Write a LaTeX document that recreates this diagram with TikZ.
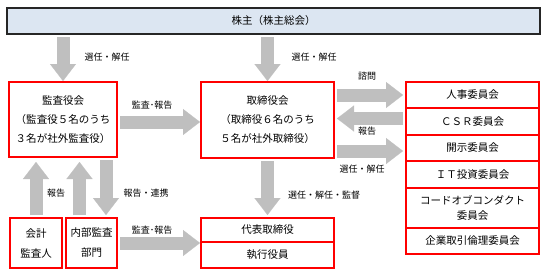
\documentclass[tikz,border=0pt]{standalone}
\usepackage{fontspec}
\setmainfont{Noto Sans CJK JP}
\usetikzlibrary{arrows.meta,positioning}

\definecolor{headfill}{HTML}{DCE6F2}
\definecolor{headline}{HTML}{262626}
\definecolor{arrowgray}{HTML}{BFBFBF}

\tikzset{
	headbox/.style={draw=headline, fill=headfill, line width=1.5pt, inner sep=0pt, outer sep=0pt,
		font=\fontsize{10.5}{13}\selectfont},
	redbox/.style={draw=red, line width=1.2pt, inner sep=0pt, outer sep=0pt, align=center,
		font=\fontsize{10.5}{19}\selectfont},
	combox/.style={redbox, minimum width=133pt, font=\fontsize{10.5}{15}\selectfont},
	fatarrow/.style={draw=arrowgray, line width=13pt,
		-{Triangle[width=26pt,length=17pt,line width=0.1pt]}},
	lbl/.style={font=\fontsize{9}{11}\selectfont, inner sep=0pt}
}

\begin{document}
\begin{tikzpicture}[x=1pt,y=-1pt]
	\useasboundingbox (0,0) rectangle (548,276);

	%% Shareholders on top
	\node[headbox, minimum width=533pt, minimum height=26pt] (share) at (273.5,21) {株主（株主総会）};

	%% Audit side (left)
	\node[redbox, minimum width=108pt, minimum height=75pt] (kansa) at (63,119.5)
		{監査役会\\（監査役５名のうち\\３名が社外監査役）};
	\node[redbox, minimum width=52pt, minimum height=50pt, font=\fontsize{10.5}{20}\selectfont]
		(kaikei) at (36,243) {会計\\監査人};
	\node[redbox, minimum width=51pt, minimum height=50pt, font=\fontsize{10.5}{20}\selectfont]
		(naibu) at (91.5,243) {内部監査\\部門};

	%% Board and executives (middle)
	\node[redbox, minimum width=133pt, minimum height=76pt] (tori) at (267.5,120)
		{取締役会\\（取締役６名のうち\\５名が社外取締役）};
	\node[redbox, minimum width=133pt, minimum height=24pt] (daihyo) at (267.5,230) {代表取締役};
	\node[redbox, minimum width=133pt, minimum height=26pt, below=0pt of daihyo] (shikko) {執行役員};

	%% Committees (right), stacked
	\node[combox, minimum height=26pt] (jinji) at (472.5,95) {人事委員会};
	\node[combox, minimum height=27pt, below=0pt of jinji] (csr) {ＣＳＲ委員会};
	\node[combox, minimum height=26pt, below=0pt of csr] (kaiji) {開示委員会};
	\node[combox, minimum height=27pt, below=0pt of kaiji] (it) {ＩＴ投資委員会};
	\node[combox, minimum height=40pt, below=0pt of it] (code) {コードオブコンダクト\\委員会};
	\node[combox, minimum height=26pt, below=0pt of code] (kigyo) {企業取引倫理委員会};

	%% Block arrows
	\draw[fatarrow, shorten <=3pt, shorten >=1pt] (share.south -| kansa.north) -- (kansa.north);
	\draw[fatarrow, shorten <=3pt, shorten >=1pt] (share.south -| tori.north) -- (tori.north);
	\draw[fatarrow, shorten <=3pt, shorten >=1pt] ([yshift=-2.5pt]kansa.east) -- ([yshift=-2.5pt]kansa.east -| tori.west);
	\draw[fatarrow, shorten <=3pt, shorten >=5pt] (kaikei.north) -- (kaikei.north |- kansa.south);
	\draw[fatarrow, shorten <=3pt, shorten >=5pt] ([xshift=-12pt]naibu.north) -- ([xshift=-12pt]naibu.north |- kansa.south);
	\draw[fatarrow, shorten <=3pt, shorten >=3pt] ([xshift=14.5pt]naibu.north |- kansa.south) -- ([xshift=14.5pt]naibu.north);
	\draw[fatarrow, shorten <=3pt, shorten >=3pt] (tori.south) -- (daihyo.north);
	\draw[fatarrow, shorten <=3pt, shorten >=1pt] (naibu.east) -- (naibu.east -| daihyo.west);
	\draw[fatarrow, shorten <=3pt, shorten >=3pt] (jinji.west -| tori.east) -- (jinji.west);
	\draw[fatarrow, shorten <=3pt, shorten >=3pt] ([yshift=3pt]csr.west) -- ([yshift=3pt]csr.west -| tori.east);
	\draw[fatarrow, shorten <=3pt, shorten >=3pt] ([yshift=-3pt]kaiji.west -| tori.east) -- ([yshift=-3pt]kaiji.west);

	%% Arrow labels
	\node[lbl] (l1) at (107,57) {選任・解任};
	\node[lbl] (l2) at (314,57) {選任・解任};
	\node[lbl] (l3) at (152,105) {監査･報告};
	\node[lbl] (l4) at (152,230) {監査･報告};
	\node[lbl] (l5) at (367,76) {諮問};
	\node[lbl] (l6) at (367,131) {報告};
	\node[lbl] (l7) at (362,169) {選任・解任};
	\node[lbl] (l8) at (56,193) {報告};
	\node[lbl] (l9) at (146,193) {報告・連携};
	\node[lbl] (l10) at (324,195) {選任・解任・監督};
\end{tikzpicture}
\end{document}
